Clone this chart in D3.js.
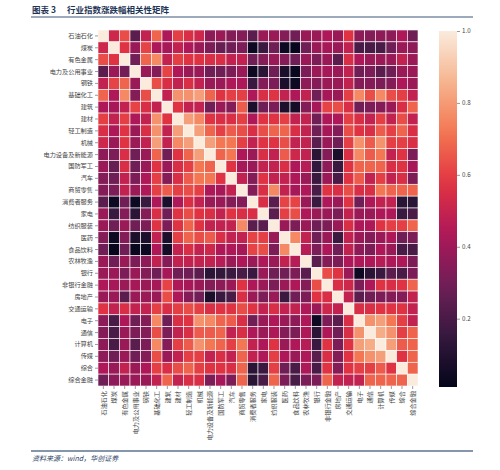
<!DOCTYPE html>
<html>
<head>
<meta charset="utf-8">
<style>
  html, body { margin: 0; background: #fff; }
  text { font-family: "Noto Sans CJK SC", sans-serif; }
</style>
<script src="https://d3js.org/d3.v7.min.js"></script>
</head>
<body>
<svg id="chart"></svg>
<script>
const industries = ['石油石化', '煤炭', '有色金属', '电力及公用事业', '钢铁', '基础化工', '建筑', '建材',
  '轻工制造', '机械', '电力设备及新能源', '国防军工', '汽车', '商贸零售', '消费者服务', '家电',
  '纺织服装', '医药', '食品饮料', '农林牧渔', '银行', '非银行金融', '房地产', '交通运输',
  '电子', '通信', '计算机', '传媒', '综合', '综合金融'];

// lower triangle, row k+1 holds its correlation with the first k+1 industries
const lowerRows = [
  [0.52],
  [0.63, 0.57],
  [0.24, 0.39, 0.30],
  [0.49, 0.61, 0.68, 0.39],
  [0.68, 0.44, 0.76, 0.34, 0.63],
  [0.44, 0.42, 0.49, 0.61, 0.55, 0.49],
  [0.60, 0.49, 0.60, 0.44, 0.49, 0.78, 0.57],
  [0.55, 0.44, 0.57, 0.39, 0.55, 0.78, 0.49, 0.81],
  [0.52, 0.39, 0.57, 0.39, 0.49, 0.81, 0.49, 0.76, 0.81],
  [0.36, 0.32, 0.55, 0.29, 0.39, 0.68, 0.29, 0.57, 0.68, 0.81],
  [0.39, 0.27, 0.55, 0.29, 0.39, 0.57, 0.39, 0.55, 0.60, 0.72, 0.68],
  [0.34, 0.29, 0.49, 0.32, 0.44, 0.60, 0.34, 0.55, 0.66, 0.72, 0.72, 0.57],
  [0.34, 0.32, 0.49, 0.39, 0.44, 0.60, 0.66, 0.60, 0.63, 0.60, 0.44, 0.42, 0.49],
  [0.24, 0.04, 0.29, 0.04, 0.16, 0.44, 0.08, 0.44, 0.55, 0.49, 0.39, 0.39, 0.34, 0.34],
  [0.39, 0.16, 0.34, 0.12, 0.34, 0.55, 0.29, 0.57, 0.63, 0.57, 0.55, 0.49, 0.57, 0.55, 0.55],
  [0.39, 0.29, 0.39, 0.29, 0.32, 0.57, 0.32, 0.57, 0.68, 0.57, 0.49, 0.49, 0.49, 0.76, 0.24, 0.24],
  [0.34, 0.04, 0.34, 0.08, 0.08, 0.49, 0.08, 0.60, 0.68, 0.63, 0.66, 0.55, 0.49, 0.49, 0.61, 0.60, 0.39],
  [0.29, 0.02, 0.29, 0.03, 0.04, 0.44, 0.06, 0.49, 0.55, 0.49, 0.52, 0.44, 0.44, 0.42, 0.61, 0.63, 0.32, 0.76],
  [0.39, 0.29, 0.39, 0.32, 0.36, 0.49, 0.34, 0.49, 0.49, 0.49, 0.49, 0.46, 0.39, 0.44, 0.39, 0.44, 0.39, 0.49, 0.46],
  [0.39, 0.39, 0.32, 0.39, 0.34, 0.29, 0.42, 0.29, 0.29, 0.24, 0.12, 0.14, 0.16, 0.20, 0.16, 0.39, 0.29, 0.29, 0.32, 0.24],
  [0.44, 0.42, 0.39, 0.42, 0.39, 0.42, 0.61, 0.44, 0.42, 0.39, 0.34, 0.36, 0.39, 0.57, 0.44, 0.39, 0.32, 0.39, 0.44, 0.34, 0.63],
  [0.39, 0.39, 0.24, 0.39, 0.39, 0.39, 0.63, 0.44, 0.34, 0.29, 0.08, 0.16, 0.20, 0.55, 0.39, 0.32, 0.39, 0.16, 0.29, 0.32, 0.57, 0.55],
  [0.57, 0.49, 0.55, 0.49, 0.49, 0.60, 0.55, 0.60, 0.63, 0.60, 0.55, 0.57, 0.57, 0.63, 0.57, 0.49, 0.55, 0.49, 0.49, 0.44, 0.39, 0.52, 0.49],
  [0.36, 0.20, 0.44, 0.29, 0.34, 0.76, 0.29, 0.55, 0.57, 0.78, 0.76, 0.68, 0.66, 0.55, 0.29, 0.39, 0.44, 0.39, 0.36, 0.44, 0.04, 0.32, 0.24, 0.55],
  [0.34, 0.20, 0.39, 0.32, 0.34, 0.63, 0.32, 0.49, 0.55, 0.66, 0.66, 0.68, 0.49, 0.55, 0.44, 0.39, 0.44, 0.34, 0.32, 0.44, 0.12, 0.44, 0.29, 0.55, 0.78],
  [0.36, 0.20, 0.39, 0.24, 0.32, 0.76, 0.34, 0.60, 0.66, 0.78, 0.72, 0.68, 0.60, 0.72, 0.49, 0.44, 0.57, 0.39, 0.44, 0.46, 0.16, 0.57, 0.32, 0.57, 0.81, 0.84],
  [0.36, 0.29, 0.39, 0.29, 0.34, 0.63, 0.39, 0.49, 0.60, 0.60, 0.49, 0.55, 0.49, 0.68, 0.49, 0.44, 0.60, 0.44, 0.39, 0.44, 0.24, 0.55, 0.34, 0.57, 0.72, 0.78, 0.81],
  [0.44, 0.39, 0.49, 0.39, 0.44, 0.60, 0.55, 0.63, 0.68, 0.60, 0.57, 0.57, 0.55, 0.68, 0.12, 0.16, 0.60, 0.29, 0.20, 0.44, 0.20, 0.57, 0.34, 0.57, 0.60, 0.60, 0.66, 0.57],
  [0.29, 0.36, 0.39, 0.39, 0.39, 0.49, 0.68, 0.49, 0.55, 0.55, 0.32, 0.42, 0.32, 0.68, 0.12, 0.20, 0.68, 0.32, 0.20, 0.32, 0.32, 0.68, 0.49, 0.49, 0.49, 0.68, 0.68, 0.68, 0.68]
];

const colorbarTicks = [0.2, 0.4, 0.6, 0.8, 1.0];
const vMin = 0.01;
const vMax = 1.0;

// seaborn "rocket" colormap stops
const rocketStops = ['#03051a', '#35193e', '#701f57', '#ad1759', '#e13342', '#f37651', '#f6b48f', '#faebdd'];

const width = 500;
const height = 470;

const svg = d3.select('#chart')
  .attr('width', width)
  .attr('height', height);

const rocket = d3.scaleLinear()
  .domain(d3.range(rocketStops.length).map(i => i / (rocketStops.length - 1)))
  .range(rocketStops)
  .interpolate(d3.interpolateRgb);

const color = v => rocket((v - vMin) / (vMax - vMin));

const valueAt = (i, j) => {
  if (i === j) return 1;
  return i > j ? lowerRows[i - 1][j] : lowerRows[j - 1][i];
};

const cells = [];
industries.forEach((rowName, i) => {
  industries.forEach((colName, j) => {
    cells.push({ row: rowName, col: colName, value: valueAt(i, j) });
  });
});

const x = d3.scaleBand().domain(industries).range([98, 418]);
const y = d3.scaleBand().domain(industries).range([30, 386]);

// title
svg.append('text')
  .attr('x', 32).attr('y', 13)
  .style('font-size', '8.5px').style('font-weight', 'bold')
  .attr('fill', '#1f3556')
  .text('图表 3');
svg.append('text')
  .attr('x', 67).attr('y', 13)
  .style('font-size', '8.5px').style('font-weight', 'bold')
  .attr('fill', '#1f3556')
  .text('行业指数涨跌幅相关性矩阵');
svg.append('line')
  .attr('x1', 31).attr('x2', 473).attr('y1', 17).attr('y2', 17)
  .attr('stroke', '#7d8ea6').attr('stroke-width', 1.6);

// heatmap
svg.append('g')
  .selectAll('rect')
  .data(cells)
  .join('rect')
  .attr('x', d => x(d.col))
  .attr('y', d => y(d.row))
  .attr('width', x.bandwidth())
  .attr('height', y.bandwidth())
  .attr('fill', d => color(d.value))
  .attr('stroke', '#fff')
  .attr('stroke-width', 0.6);

const yAxis = svg.append('g')
  .attr('transform', 'translate(98,0)')
  .call(d3.axisLeft(y).tickSize(3).tickPadding(2));
yAxis.select('.domain').remove();
yAxis.selectAll('line').attr('stroke', '#555').attr('stroke-width', 0.6);
yAxis.selectAll('text').style('font-size', '6.2px').attr('fill', '#444');

const xAxis = svg.append('g')
  .attr('transform', 'translate(0,386)')
  .call(d3.axisBottom(x).tickSize(3));
xAxis.select('.domain').remove();
xAxis.selectAll('line').attr('stroke', '#555').attr('stroke-width', 0.6);
xAxis.selectAll('text')
  .style('font-size', '6.2px').attr('fill', '#444')
  .attr('transform', 'rotate(-90)')
  .attr('x', -5).attr('y', 0).attr('dy', '0.35em')
  .attr('text-anchor', 'end');

// colorbar
const cb = { x: 439, y0: 31, y1: 387, w: 18 };
const grad = svg.append('defs').append('linearGradient')
  .attr('id', 'cbGrad')
  .attr('x1', 0).attr('x2', 0).attr('y1', 1).attr('y2', 0);
d3.range(0, 1.0001, 0.05).forEach(t => {
  grad.append('stop').attr('offset', t).attr('stop-color', rocket(t));
});
svg.append('rect')
  .attr('x', cb.x).attr('y', cb.y0)
  .attr('width', cb.w).attr('height', cb.y1 - cb.y0)
  .attr('fill', 'url(#cbGrad)');

const cbScale = d3.scaleLinear().domain([vMin, vMax]).range([cb.y1, cb.y0]);
const cbAxis = svg.append('g')
  .attr('transform', `translate(${cb.x + cb.w},0)`)
  .call(d3.axisRight(cbScale).tickValues(colorbarTicks).tickFormat(d3.format('.1f')).tickSize(3).tickPadding(2));
cbAxis.select('.domain').remove();
cbAxis.selectAll('line').attr('stroke', '#555').attr('stroke-width', 0.6);
cbAxis.selectAll('text').style('font-size', '6.2px').attr('fill', '#444');

// source note
svg.append('line')
  .attr('x1', 31).attr('x2', 473).attr('y1', 451).attr('y2', 451)
  .attr('stroke', '#5d7290').attr('stroke-width', 1.4);
svg.append('text')
  .attr('x', 32).attr('y', 461)
  .style('font-size', '7px').style('font-style', 'italic')
  .attr('fill', '#2c4466')
  .text('资料来源：wind，华创证券');
</script>
</body>
</html>
